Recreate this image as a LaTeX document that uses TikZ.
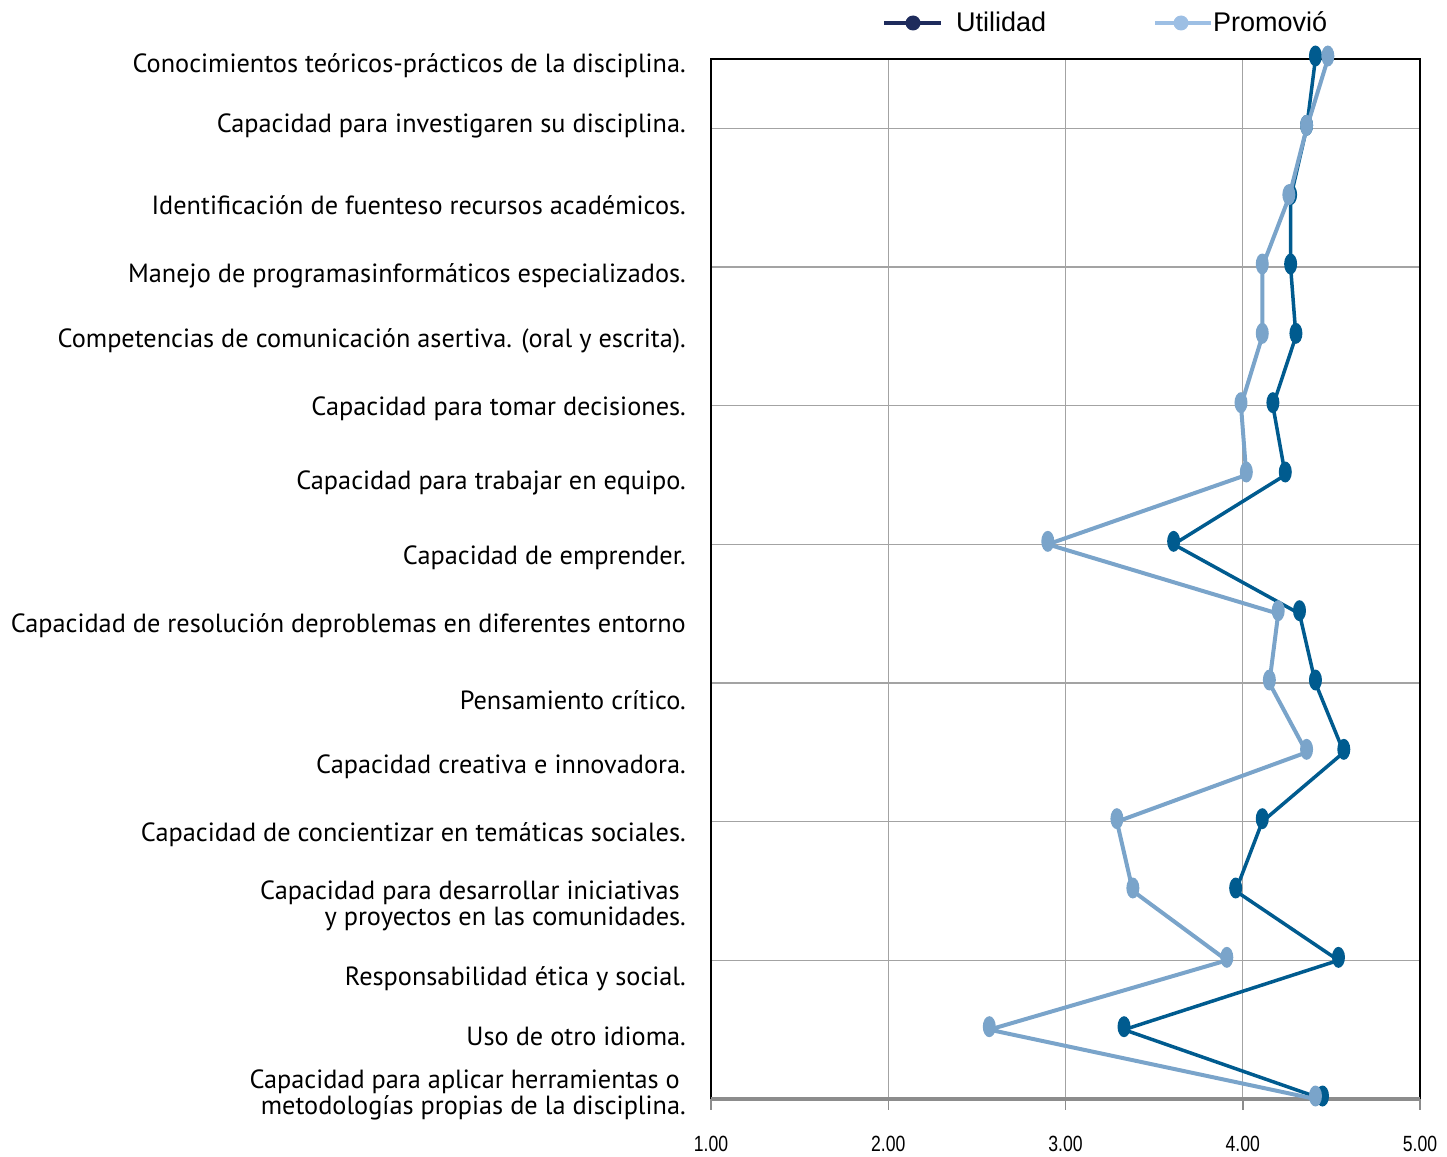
\documentclass[tikz,border=0pt]{standalone}
\usepackage{fontspec}
\setmainfont{PT Sans}
\newfontfamily\keyfont{Liberation Sans}
\newfontfamily\tickfont{Liberation Sans}[FakeStretch=0.8]
\usepackage{xcolor}
\definecolor{utilblue}{HTML}{005B8F}
\definecolor{promblue}{HTML}{7AA4CA}
\definecolor{utilkey}{HTML}{1E2B5C}
\definecolor{promkey}{HTML}{9DBFE4}
\definecolor{gridgray}{HTML}{A3A3A3}
\definecolor{axisgray}{HTML}{8C8C8C}

\begin{document}
\begin{tikzpicture}[x=1pt,y=-1pt,
  catlabel/.style={anchor=east,align=right,inner sep=0pt,font=\fontsize{26.3}{26}\selectfont},
  ticklabel/.style={inner sep=0pt,font=\tickfont\fontsize{22}{22}\selectfont},
  keylabel/.style={anchor=west,inner sep=0pt,font=\keyfont\fontsize{27}{27}\selectfont},
  gridline/.style={gridgray,line width=1.2pt},
  utilline/.style={utilblue,line width=3.5pt,line join=round},
  promline/.style={promblue,line width=4pt,line join=round}]
  \useasboundingbox (0,0) rectangle (1447,1156);

  % Grid lines
  \foreach \k in {1,...,7}
    \draw[gridline] (711,{59+(2*\k-1)*1040/15}) -- (1420,{59+(2*\k-1)*1040/15});
  \foreach \v in {2,3,4}
    \draw[gridline] ({711+(\v-1)*177.25},59) -- ({711+(\v-1)*177.25},1099);

  % Plot frame and value axis
  \draw[black,line width=1.3pt] (711,1099) -- (711,59) -- (1420,59) -- (1420,1099);
  \draw[axisgray,line width=3.5pt] (711,1099) -- (1420,1099);
  \foreach \v in {1,...,5} {
    \draw[axisgray,line width=1.5pt] ({711+(\v-1)*177.25},1099) -- ({711+(\v-1)*177.25},1110);
    \node[ticklabel] (tick\v) at ({711+(\v-1)*177.25},1144) {\v.00};
  }

  % Category labels
  \node[catlabel] (conoc) at (686,66) {Conocimientos teóricos-prácticos de la disciplina.};
  \node[catlabel] (invest) at (686,126) {Capacidad para investigaren su disciplina.};
  \node[catlabel] (fuentes) at (686,205) {Identificación de fuenteso recursos académicos.};
  \node[catlabel] (progr) at (686,276) {Manejo de programasinformáticos especializados.};
  \node[catlabel] (comun) at (686,341) {Competencias de comunicación asertiva. (oral y escrita).};
  \node[catlabel] (decis) at (686,409) {Capacidad para tomar decisiones.};
  \node[catlabel] (equipo) at (686,483) {Capacidad para trabajar en equipo.};
  \node[catlabel] (empr) at (686,558) {Capacidad de emprender.};
  \node[catlabel] (resol) at (686,626) {Capacidad de resolución deproblemas en diferentes entorno};
  \node[catlabel] (critico) at (686,700) {Pensamiento crítico.};
  \node[catlabel] (creat) at (686,767) {Capacidad creativa e innovadora.};
  \node[catlabel] (concien) at (686,835) {Capacidad de concientizar en temáticas sociales.};
  \node[catlabel] (inic) at (686,906) {Capacidad para desarrollar iniciativas\hspace*{6pt}\\y proyectos en las comunidades.};
  \node[catlabel] (etica) at (686,979) {Responsabilidad ética y social.};
  \node[catlabel] (idioma) at (686,1036) {Uso de otro idioma.};
  \node[catlabel] (herram) at (686,1095) {Capacidad para aplicar herramientas o\hspace*{6pt}\\metodologías propias de la disciplina.};

  % Data points: Utilidad / Promovio
  \foreach \u/\p [count=\i] in {4.41/4.48, 4.36/4.36, 4.27/4.26, 4.27/4.11, 4.30/4.11,
      4.17/3.99, 4.24/4.02, 3.61/2.90, 4.32/4.20, 4.41/4.15, 4.57/4.36, 4.11/3.29,
      3.96/3.38, 4.54/3.91, 3.33/2.57, 4.45/4.41} {
    \coordinate (u\i) at ({711+(\u-1)*177.25},{59+(\i-1)*1040/15});
    \coordinate (p\i) at ({711+(\p-1)*177.25},{59+(\i-1)*1040/15});
  }

  % Utilidad series
  \draw[utilline] (u1) \foreach \i in {2,...,16} { -- (u\i) };
  \foreach \i in {1,...,16}
    \fill[utilblue] ([yshift=3pt]u\i) ellipse [x radius=6.5pt, y radius=10.5pt];

  % Promovio series
  \draw[promline] (p1) \foreach \i in {2,...,16} { -- (p\i) };
  \foreach \i in {1,...,16}
    \fill[promblue] ([yshift=3pt]p\i) ellipse [x radius=6.5pt, y radius=10.5pt];

  % Legend
  \coordinate (ukeyA) at (884,23);
  \coordinate (ukeyB) at (941,23);
  \draw[utilkey,line width=4pt] (ukeyA) -- (ukeyB);
  \fill[utilkey] (913,23) circle (7.5pt);
  \node[keylabel] (ukey) at (956,22) {Utilidad};
  \coordinate (pkeyA) at (1155,23);
  \coordinate (pkeyB) at (1211,23);
  \draw[promkey,line width=4pt] (pkeyA) -- (pkeyB);
  \fill[promkey] (1181,23) circle (7.5pt);
  \node[keylabel] (pkey) at (1213,22) {Promovió};
\end{tikzpicture}
\end{document}
